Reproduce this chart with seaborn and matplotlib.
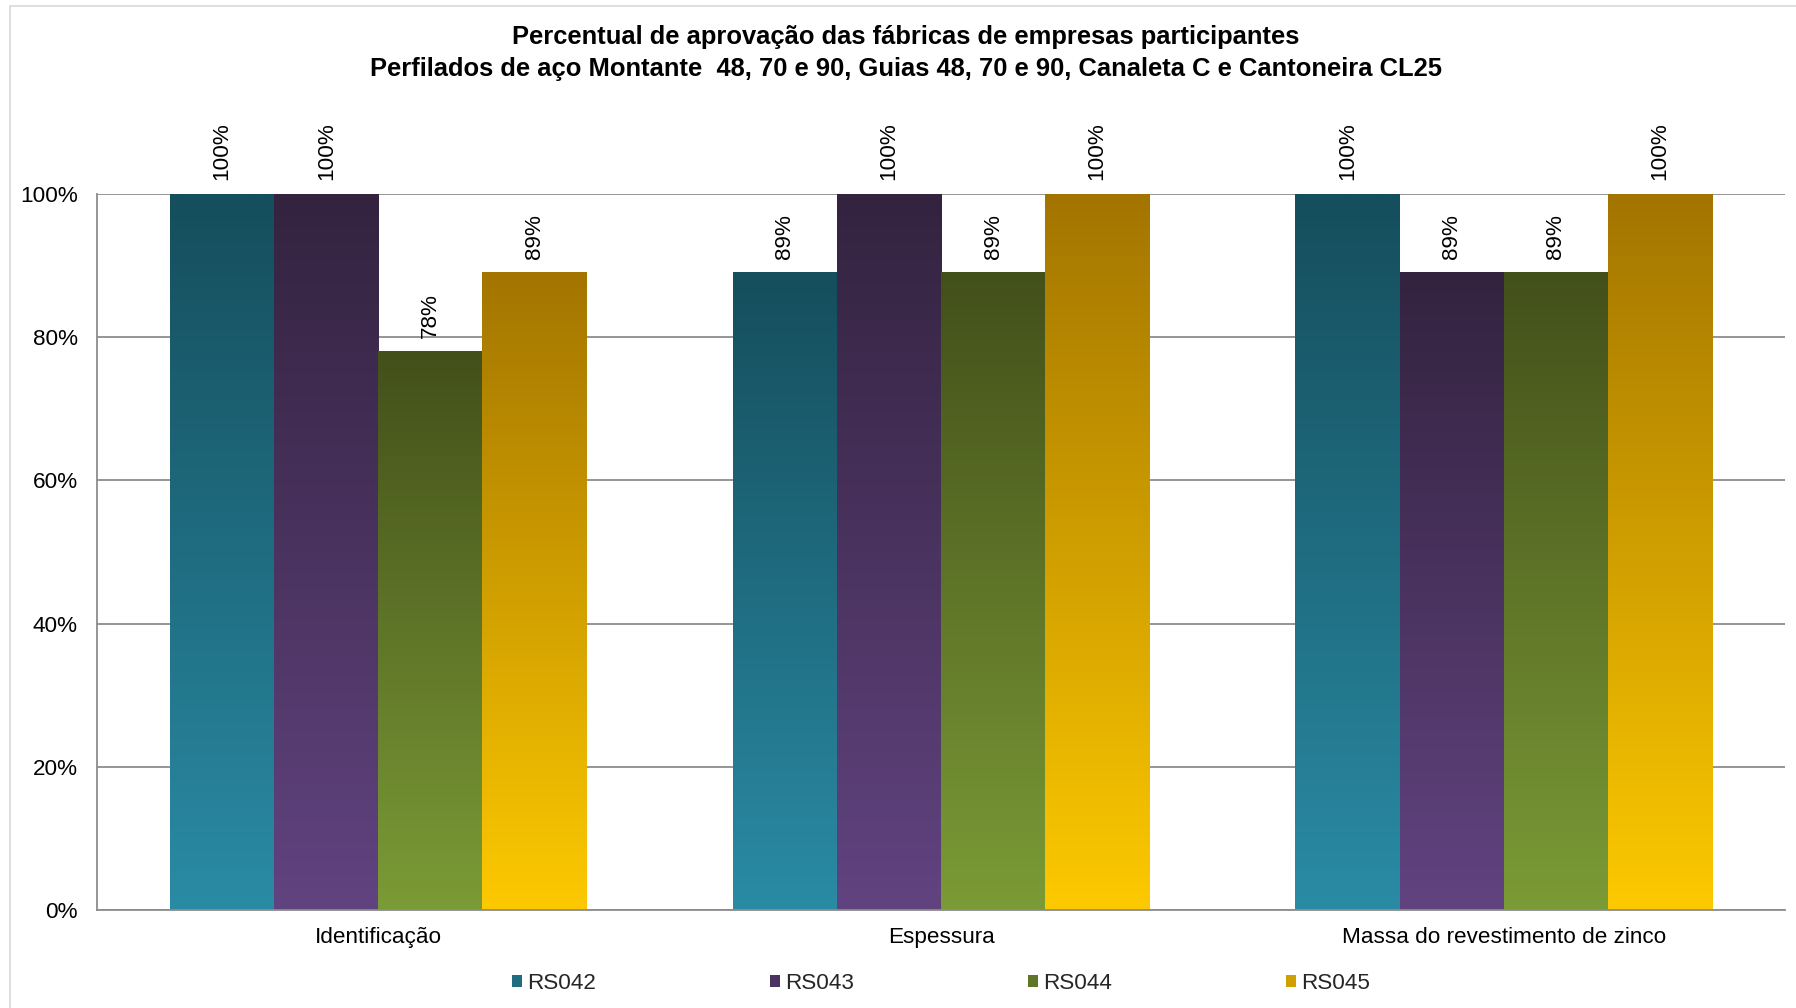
import numpy as np
import pandas as pd
import matplotlib
matplotlib.use("Agg")
import matplotlib.pyplot as plt
import seaborn as sns
from matplotlib.colors import to_rgb
from matplotlib.patches import Patch
from matplotlib.lines import Line2D

# Approval share per test and per participating plant
categories = ["Identificação", "Espessura", "Massa do revestimento de zinco"]
series_names = ["RS042", "RS043", "RS044", "RS045"]
rs042 = [100, 89, 100]
rs043 = [100, 100, 89]
rs044 = [78, 89, 89]
rs045 = [89, 100, 100]
y_ticks = [0, 20, 40, 60, 80, 100]

title_text = ("Percentual de aprovação das fábricas de empresas participantes\n"
              "Perfilados de aço Montante  48, 70 e 90, Guias 48, 70 e 90, Canaleta C e Cantoneira CL25")

# top (dark) and bottom (light) colour of each series' vertical gradient
grad_top = ["#154e5c", "#33233f", "#43501a", "#a37500"]
grad_bottom = ["#2a8ba5", "#614380", "#7b9b36", "#fdc900"]

df = pd.DataFrame({
    "categoria": categories * 4,
    "serie": [s for s in series_names for _ in categories],
    "valor": rs042 + rs043 + rs044 + rs045,
})

sns.set_theme(style="white")
plt.rcParams["font.family"] = ["Liberation Sans", "DejaVu Sans"]

FS = 16.2

fig = plt.figure(figsize=(17.96, 10.08), dpi=100)
ax = fig.add_axes([97 / 1796, 1 - 910 / 1008, (1785 - 97) / 1796, (910 - 194) / 1008])

mid_cols = []
for t, b in zip(grad_top, grad_bottom):
    mid_cols.append(tuple((np.array(to_rgb(t)) + np.array(to_rgb(b))) / 2))

sns.barplot(data=df, x="categoria", y="valor", hue="serie", order=categories,
            hue_order=series_names, palette=mid_cols, width=0.74, saturation=1,
            legend=False, ax=ax, linewidth=0)

# replace the flat fills with vertical gradients and write the value labels
n_cat = len(categories)
for i, bar in enumerate(ax.patches):
    s_idx = i // n_cat
    x0, w, h = bar.get_x(), bar.get_width(), bar.get_height()
    c_top = np.array(to_rgb(grad_top[s_idx]))
    c_bot = np.array(to_rgb(grad_bottom[s_idx]))
    t = np.linspace(0, 1, 256)[:, None]
    img = (c_bot * (1 - t) + c_top * t)[:, None, :]
    ax.imshow(img, extent=[x0, x0 + w, 0, h], origin="lower", aspect="auto",
              interpolation="bilinear", zorder=2)
    bar.set_facecolor("none")
    ax.annotate(f"{h:.0f}%", xy=(x0 + w / 2, h), xytext=(0, 10),
                textcoords="offset points", ha="center", va="bottom",
                rotation=90, fontsize=FS, color="#000000",
                annotation_clip=False)

ax.set_xlim(-0.5, n_cat - 0.5)
ax.set_ylim(0, 100)
ax.set_yticks(y_ticks)
ax.set_yticklabels([f"{v}%" for v in y_ticks])
ax.set_xlabel("")
ax.set_ylabel("")
ax.tick_params(axis="both", length=0, labelsize=FS, colors="#000000")
ax.tick_params(axis="y", pad=14)
ax.tick_params(axis="x", pad=12)

ax.set_axisbelow(True)
ax.yaxis.grid(True, color="#8c8c8c", linewidth=1.3)
ax.xaxis.grid(False)
for side in ["top", "right"]:
    ax.spines[side].set_visible(False)
for side in ["left", "bottom"]:
    ax.spines[side].set_color("#8c8c8c")
    ax.spines[side].set_linewidth(1.3)

handles = [Patch(facecolor=mid_cols[k], edgecolor="none", label=series_names[k])
           for k in range(len(series_names))]
ax.legend(handles=handles, loc="center", bbox_to_anchor=(0.5, -0.103), ncol=4,
          frameon=False, fontsize=FS, handlelength=0.45, handleheight=0.45,
          handletextpad=0.25, columnspacing=7.7)

fig.text(906 / 1796, 1 - 53 / 1008, title_text, ha="center", va="center",
         fontsize=18.4, fontweight="bold", linespacing=1.43, color="#000000")

# light chart-area border along the top and left edges
fig.add_artist(Line2D([10 / 1796, 10 / 1796], [0, 1 - 6 / 1008],
                      transform=fig.transFigure, color="#d9d9d9", linewidth=1.2))
fig.add_artist(Line2D([10 / 1796, 1], [1 - 6 / 1008, 1 - 6 / 1008],
                      transform=fig.transFigure, color="#d9d9d9", linewidth=1.2))

fig.savefig("out.png", dpi=100, facecolor="white")
